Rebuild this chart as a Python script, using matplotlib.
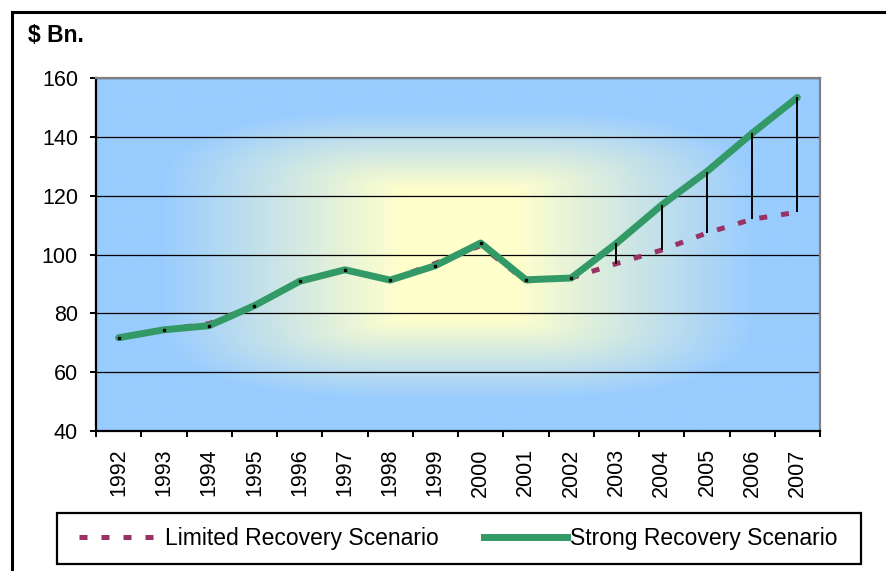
import numpy as np
import matplotlib.pyplot as plt
from matplotlib.patches import Rectangle
from matplotlib.lines import Line2D

plt.rcParams['font.family'] = ['Liberation Sans', 'DejaVu Sans']

# data ($ Bn.)
years = ['1992', '1993', '1994', '1995', '1996', '1997', '1998', '1999',
         '2000', '2001', '2002', '2003', '2004', '2005', '2006', '2007']
strong = [71.7, 74.4, 75.8, 82.6, 90.9, 94.8, 91.3, 96.2,
          103.9, 91.4, 92.0, 103.8, 116.8, 128.2, 141.2, 153.4]
limited = [71.7, 74.4, 76.5, 82.6, 90.9, 94.8, 91.3, 97.0,
           103.0, 91.0, 92.0, 96.9, 101.5, 107.3, 112.0, 114.4]
yticks = [40, 60, 80, 100, 120, 140, 160]
first_forecast = 11  # 2003

green = '#339966'
purple = '#993366'

fig = plt.figure(figsize=(8.86, 5.71), dpi=100)
ax = fig.add_axes([96/886, 1-431/571, (820-96)/886, (431-78)/571])

x = np.arange(len(years))
ax.set_xlim(-0.5, len(years) - 0.5)
ax.set_ylim(40, 160)

# background: centre gradient, pale yellow to light blue
W, H = 400, 200
u = np.linspace(-1, 1, W)
v = np.linspace(-1, 1, H)
U, V = np.meshgrid(u, v)
ax_t = np.clip((np.abs(U) - 0.16) / 0.66, 0, 1)
ay_t = np.clip((np.abs(V) - 0.37) / 0.45, 0, 1)
t = np.clip((ax_t**2.5 + ay_t**2.5)**(1/2.5), 0, 1)[..., None]
centre = np.array([1.0, 1.0, 0.8])
edge = np.array([0.6, 0.8, 1.0])
img = centre * (1 - t) + edge * t
ax.imshow(img, extent=[-0.5, len(years) - 0.5, 40, 160], aspect='auto',
          zorder=0, interpolation='bilinear')

ax.set_axisbelow(True)
ax.yaxis.grid(True, color='black', lw=0.9)

# series
ax.plot(x, limited, color=purple, lw=3.6, dashes=(1.6, 2.8), zorder=2)
ax.plot(x, strong, color=green, lw=5, solid_capstyle='round',
        solid_joinstyle='round', zorder=3)
ax.plot(x[:first_forecast], strong[:first_forecast], ls='none', marker='s',
        ms=2, color='black', zorder=4)
ax.vlines(x[first_forecast:], limited[first_forecast:], strong[first_forecast:],
          color='black', lw=1.4, zorder=5)

# axes styling
for side in ['left', 'bottom']:
    ax.spines[side].set_color('black')
    ax.spines[side].set_linewidth(1.6)
for side in ['top', 'right']:
    ax.spines[side].set_color('#808080')
    ax.spines[side].set_linewidth(1.6)

ax.set_yticks(yticks)
ax.tick_params(axis='y', length=4.5, width=1.4, pad=8.5, labelsize=15.5)
ax.set_xticks(x)
ax.set_xticklabels(years, rotation=90)
ax.set_xticks(np.arange(len(years) + 1) - 0.5, minor=True)
ax.tick_params(axis='x', which='major', length=0, pad=12.5, labelsize=15.5)
ax.tick_params(axis='x', which='minor', length=4, width=1.4)

fig.text(28/886, 1-35/571, r'\$ Bn.', weight='bold', size=16.5,
         ha='left', va='center')

# legend
handles = [Line2D([], [], color=purple, lw=3.6, dashes=(1.6, 2.8)),
           Line2D([], [], color=green, lw=5)]
labels = ['Limited Recovery Scenario', 'Strong Recovery Scenario']
fig.legend(handles, labels, loc='center', bbox_to_anchor=(0.517, 0.057),
           ncol=2, frameon=False, handlelength=3.6, handletextpad=0.15,
           columnspacing=2.0, fontsize=16.5)
fig.patches.append(Rectangle((57/886, 1-564/571), (861-57)/886, 51/571,
                             transform=fig.transFigure, fill=False,
                             ec='black', lw=1.6))

# outer chart border (runs off the right and bottom edges)
fig.patches.append(Rectangle((12/886, -0.1), 1.0, 1.1 - 12/571,
                             transform=fig.transFigure, fill=False,
                             ec='black', lw=2.2))

fig.savefig('out.png', dpi=100)
